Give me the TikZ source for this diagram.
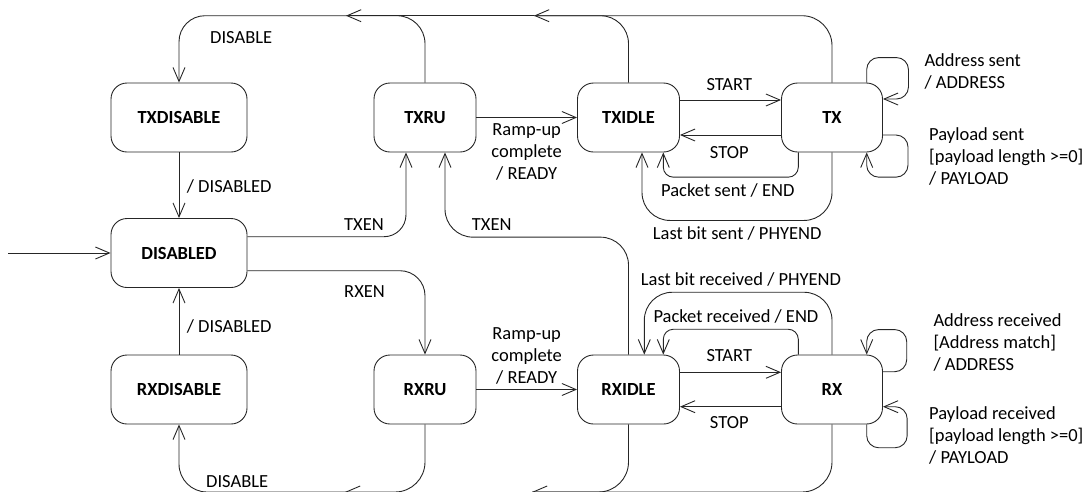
\documentclass[tikz,border=0pt]{standalone}
\usepackage{fontspec}
\setmainfont{Carlito}
\usetikzlibrary{arrows.meta,calc}
\colorlet{lc}{black!85}
\newcommand{\cstack}[1]{\vtop{\baselineskip=22pt\lineskiplimit=-100pt\lineskip=0pt\halign{\hfil##\hfil\cr#1\crcr}}}
\newcommand{\lstack}[1]{\vtop{\baselineskip=22pt\lineskiplimit=-100pt\lineskip=0pt\halign{##\hfil\cr#1\crcr}}}
\begin{document}
\begin{tikzpicture}[x=1pt,y=-1pt,
  every node/.style={font=\fontsize{18.5}{22}\selectfont, inner sep=0pt},
  state/.style={draw=lc, line width=0.9pt, rounded corners=16pt, minimum height=69pt, font=\fontsize{18.5}{22}\selectfont\bfseries},
  wide/.style={state, minimum width=136pt},
  narrow/.style={state, minimum width=102pt},
  conn/.style={draw=lc, line width=0.9pt},
  arr/.style={conn, -{Straight Barb[length=14pt,width=12pt]}},
  lbl/.style={anchor=base west},
  lblc/.style={anchor=base},
]
\useasboundingbox (0,0) rectangle (1086,491);
\clip (0,0) rectangle (1086,491);

\node[wide] (TXDISABLE) at (179,117.5) {TXDISABLE};
\node[narrow] (TXRU) at (425,117.5) {TXRU};
\node[narrow] (TXIDLE) at (628.5,117.5) {TXIDLE};
\node[narrow, minimum width=101pt] (TX) at (832,117.5) {TX};
\node[wide] (DISABLED) at (179,253) {DISABLED};
\node[wide] (RXDISABLE) at (179,389.5) {RXDISABLE};
\node[narrow] (RXRU) at (425,389.5) {RXRU};
\node[narrow] (RXIDLE) at (628.5,389.5) {RXIDLE};
\node[narrow, minimum width=101pt] (RX) at (832,389.5) {RX};

\coordinate (init) at (8,253);
\coordinate (bt1) at (534,15.7);
\coordinate (bt2) at (346,15.7);
\coordinate (bb1) at (532,492);
\coordinate (bb2) at (345,492);

% left column
\draw[arr] (init) -- (DISABLED.west);
\draw[arr] (TXDISABLE) -- (DISABLED);
\draw[arr] (RXDISABLE) -- (DISABLED);
\draw[arr, rounded corners=22pt] ($(DISABLED.east)+(0,-16.3)$) -| ($(TXRU.south)+(-19,0)$);
\draw[arr, rounded corners=25pt] ($(DISABLED.east)+(0,17.7)$) -| (RXRU.north);
\draw[arr, rounded corners=28pt] (RXIDLE.north) |- ($(TXRU.south)+(20,84.7)$) -- ($(TXRU.south)+(20,0)$);

% top bus
\draw[arr, rounded corners=30pt] (TX.north) |- (bt1);
\draw[conn, rounded corners=28pt] (TXIDLE.north) |- (bt1);
\draw[arr] (bt1) -- (bt2);
\draw[conn, rounded corners=28pt] (TXRU.north) |- (bt2);
\draw[arr, rounded corners=26pt] (bt2) -| (TXDISABLE.north);

% bottom bus
\draw[arr, rounded corners=30pt] (RX.south) |- (bb1);
\draw[conn, rounded corners=30pt] (RXIDLE.south) |- (bb1);
\draw[arr] (bb1) -- (bb2);
\draw[conn, rounded corners=30pt] (RXRU.south) |- (bb2);
\draw[arr, rounded corners=28pt] (bb2) -| (RXDISABLE.south);

% ramp-up
\draw[arr] (TXRU) -- (TXIDLE);
\draw[arr] (RXRU) -- (RXIDLE);

% start / stop
\draw[arr] ($(TXIDLE.east)+(0,-17.5)$) -- ($(TX.west)+(0,-17.5)$);
\draw[arr] ($(TX.west)+(0,17.5)$) -- ($(TXIDLE.east)+(0,17.5)$);
\draw[arr] ($(RXIDLE.east)+(0,-17.2)$) -- ($(RX.west)+(0,-17.2)$);
\draw[arr] ($(RX.west)+(0,17.2)$) -- ($(RXIDLE.east)+(0,17.2)$);

% end / phyend
\draw[arr, rounded corners=10pt] ($(TX.south)+(-33.7,0)$) -- ++(0,24.7) -| ($(TXIDLE.south)+(34.8,0)$);
\draw[arr, rounded corners=28pt] (TX.south) -- ++(0,68) -| ($(TXIDLE.south)+(13.5,0)$);
\draw[arr, rounded corners=10pt] ($(RX.north)+(-33.7,0)$) -- ++(0,-25.3) -| ($(RXIDLE.north)+(34.8,0)$);
\draw[arr, rounded corners=28pt] (RX.north) -- ++(0,-62.3) -| ($(RXIDLE.north)+(15.8,0)$);

% self loops
\draw[arr, rounded corners=12pt] ($(TX.north)+(34.7,0)$) -- ++(0,-25) -| ($(TX.east)+(25.5,-18.5)$) -- ($(TX.east)+(0,-18.5)$);
\draw[arr, rounded corners=12pt] ($(TX.east)+(0,17.5)$) -| ($(TX.south)+(76,24.7)$) -| ($(TX.south)+(34.7,0)$);
\draw[arr, rounded corners=12pt] ($(RX.east)+(0,-17.8)$) -| ($(RX.north)+(74.7,-25)$) -| ($(RX.north)+(34.7,0)$);
\draw[arr, rounded corners=12pt] ($(RX.south)+(34.7,0)$) -- ++(0,23.3) -| ($(RX.east)+(24.2,17.2)$) -- ($(RX.east)+(0,17.2)$);

% labels
\node[lbl] (lDis1) at (210,43.5) {DISABLE};
\node[lbl] (lDisd1) at (186.7,192.7) {/ DISABLED};
\node[lbl] (lTxen1) at (344,230) {TXEN};
\node[lbl] (lRxen) at (344,297.3) {RXEN};
\node[lbl] (lDisd2) at (186.7,332) {/ DISABLED};
\node[lbl] (lDis2) at (206,487.5) {DISABLE};
\node[lblc] (lRamp1) at (526.7,135) {\cstack{Ramp-up\cr complete\cr / READY}};
\node[lblc] (lStart1) at (729.3,90) {START};
\node[lblc] (lStop1) at (729.3,158.3) {STOP};
\node[lbl] (lPs) at (661,196) {Packet sent / END};
\node[lbl] (lLbs) at (652.7,239.3) {Last bit sent / PHYEND};
\node[lbl] (lTxen2) at (471.7,230) {TXEN};
\node[lbl] (lAs) at (924.3,66) {\lstack{Address sent\cr / ADDRESS}};
\node[lbl] (lPls) at (929,140) {\lstack{Payload sent\cr [payload length >=0]\cr / PAYLOAD}};
\node[lbl] (lLbr) at (640.7,285) {Last bit received / PHYEND};
\node[lbl] (lPr) at (653.3,322.7) {Packet received / END};
\node[lblc] (lStart2) at (729.3,361.7) {START};
\node[lblc] (lStop2) at (729.3,428.3) {STOP};
\node[lblc] (lRamp2) at (526.7,339.3) {\cstack{Ramp-up\cr complete\cr / READY}};
\node[lbl] (lAr) at (933.3,326) {\lstack{Address received\cr [Address match]\cr / ADDRESS}};
\node[lbl] (lPlr) at (929,419.3) {\lstack{Payload received\cr [payload length >=0]\cr / PAYLOAD}};
\end{tikzpicture}
\end{document}
